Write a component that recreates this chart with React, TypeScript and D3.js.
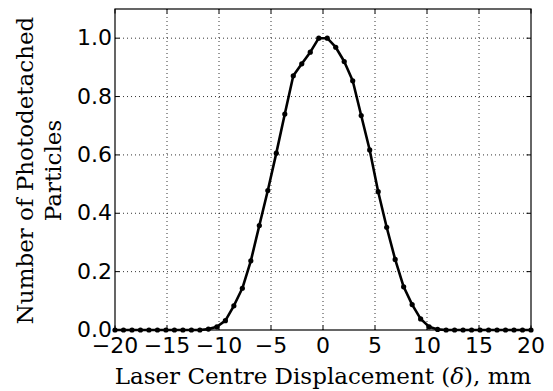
import React from 'react';
import * as d3 from 'd3';

// 50 samples, linspace(-20, 20, 50)
const xs = d3.range(50).map(i => -20 + (i * 40) / 49);
const yLeft = [
  0, 0, 0, 0, 0, 0, 0, 0, 0, 0, 0,
  0.003, 0.011, 0.032, 0.083, 0.143, 0.237, 0.358, 0.478, 0.606, 0.74, 0.871, 0.912, 0.952, 1.0,
];
const yRight = [
  1.0, 0.969, 0.92, 0.854, 0.735, 0.617, 0.474, 0.352, 0.242, 0.148, 0.087, 0.038, 0.011, 0.002,
  0, 0, 0, 0, 0, 0, 0, 0, 0, 0, 0,
];
const ys = yLeft.concat(yRight);
const xTicks = [-20, -15, -10, -5, 0, 5, 10, 15, 20];
const yTicks = [0, 0.2, 0.4, 0.6, 0.8, 1.0];

const W = 553;
const H = 391;
const m = { left: 115, right: 22, top: 9, bottom: 61 };

export default function App() {
  const x = d3.scaleLinear().domain([-20, 20]).range([m.left, W - m.right]);
  const y = d3.scaleLinear().domain([0, 1.1]).range([H - m.bottom, m.top]);
  const data = xs.map((v, i) => [v, ys[i]] as [number, number]);
  const line = d3.line<[number, number]>().x(d => x(d[0])).y(d => y(d[1]));
  const x0 = x.range()[0], x1 = x.range()[1];
  const y0 = y.range()[0], y1 = y.range()[1];
  const tick = 4.5;
  const sans = 'DejaVu Sans';
  const serif = 'DejaVu Serif';

  return (
    <svg width={W} height={H} style={{ position: 'absolute', left: 0, top: 0, background: '#fff' }}>
      {/* grid */}
      <g stroke="#000" strokeWidth={0.8} strokeDasharray="1,3">
        {xTicks.slice(1, -1).map(t => (
          <line key={'gx' + t} x1={x(t)} x2={x(t)} y1={y0} y2={y1} />
        ))}
        {yTicks.slice(1).map(t => (
          <line key={'gy' + t} x1={x0} x2={x1} y1={y(t)} y2={y(t)} />
        ))}
      </g>
      {/* curve */}
      <path d={line(data) || ''} fill="none" stroke="#000" strokeWidth={2.6} strokeLinejoin="round" />
      {data.map((d, i) => (
        <circle key={i} cx={x(d[0])} cy={y(d[1])} r={2.6} fill="#000" />
      ))}
      {/* frame */}
      <rect x={x0} y={y1} width={x1 - x0} height={y0 - y1} fill="none" stroke="#000" strokeWidth={1.2} />
      {/* ticks */}
      <g stroke="#000" strokeWidth={1}>
        {xTicks.map(t => (
          <g key={'tx' + t}>
            <line x1={x(t)} x2={x(t)} y1={y0} y2={y0 - tick} />
            <line x1={x(t)} x2={x(t)} y1={y1} y2={y1 + tick} />
          </g>
        ))}
        {yTicks.map(t => (
          <g key={'ty' + t}>
            <line x1={x0} x2={x0 + tick} y1={y(t)} y2={y(t)} />
            <line x1={x1} x2={x1 - tick} y1={y(t)} y2={y(t)} />
          </g>
        ))}
      </g>
      {/* tick labels */}
      <g fontFamily={sans} fontSize={22} fill="#000">
        {xTicks.map(t => (
          <text key={'lx' + t} x={x(t)} y={y0 + 23} textAnchor="middle">
            {t < 0 ? '\u2212' + Math.abs(t) : String(t)}
          </text>
        ))}
        {yTicks.map(t => (
          <text key={'ly' + t} x={x0 - 3} y={y(t) + 7} textAnchor="end">
            {t.toFixed(1)}
          </text>
        ))}
      </g>
      {/* axis labels */}
      <text x={(x0 + x1) / 2} y={384} textAnchor="middle" fontFamily={serif} fontSize={23}>
        Laser Centre Displacement (<tspan fontStyle="italic">δ</tspan>), mm
      </text>
      <g transform={`translate(33, ${(y0 + y1) / 2 + 1}) rotate(-90)`} fontFamily={serif} fontSize={23}>
        <text x={0} y={0} textAnchor="middle">Number of Photodetached</text>
        <text x={0} y={28} textAnchor="middle">Particles</text>
      </g>
    </svg>
  );
}
